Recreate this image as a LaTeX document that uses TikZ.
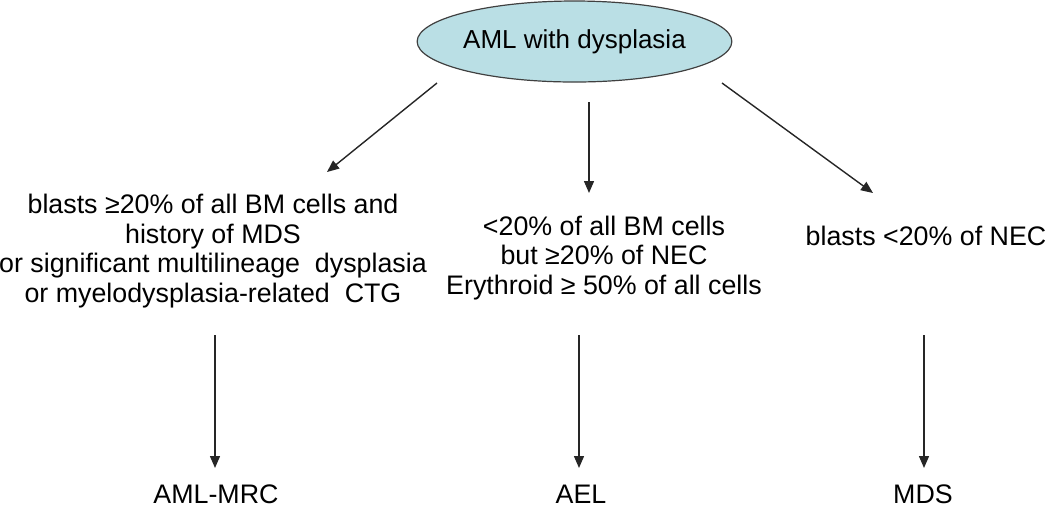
\documentclass[tikz,border=0pt]{standalone}
\usepackage{fontspec}
\setmainfont{Liberation Sans}
\usetikzlibrary{shapes.geometric,arrows.meta}
\definecolor{ovalfill}{RGB}{186,223,229}
\tikzset{
  arr/.style={draw=black!85, line width=0.7pt, -{Triangle[length=6pt,width=5pt]}},
  txt/.style={align=center, inner sep=0pt, anchor=base, font=\fontsize{13.4}{14.75}\selectfont}
}
\begin{document}
\begin{tikzpicture}[x=0.5pt,y=-0.5pt]
\useasboundingbox (0,0) rectangle (1050,511);

% Top oval
\node[ellipse, draw=black!75, line width=0.6pt, fill=ovalfill, minimum width=147.5pt, minimum height=40.5pt, inner sep=0pt, font=\fontsize{13}{15}\selectfont] (aml) at (574.5,41.5) {AML with dysplasia};

% Criteria (base = last line)
\node[txt] (mrc) at (213,302) {blasts ≥20\% of all BM cells and\\history of MDS\\or significant multilineage\ \ dysplasia\\or myelodysplasia-related\ \ CTG};
\node[txt] (ael) at (604,294) {<20\% of all BM cells\\but ≥20\% of NEC\\Erythroid ≥ 50\% of all cells};
\node[txt] (mds) at (926,245) {blasts <20\% of NEC};

% Diagnoses
\node[txt] (dmrc) at (216,503) {AML-MRC};
\node[txt] (dael) at (581,503) {AEL};
\node[txt] (dmds) at (923,503) {MDS};

% Coordinates
\coordinate (a1) at (437,83);
\coordinate (b1) at (327,172);
\coordinate (a2) at (589,102);
\coordinate (b2) at (589,193);
\coordinate (a3) at (722,83);
\coordinate (b3) at (873,193);
\coordinate (c1) at (215,335);
\coordinate (c2) at (579,335);
\coordinate (c3) at (924,335);

% Arrows
\draw[arr] (a1) -- (b1);
\draw[arr] (a2) -- (b2);
\draw[arr] (a3) -- (b3);
\draw[arr] (c1) -- (c1 |- 0,468);
\draw[arr] (c2) -- (c2 |- 0,468);
\draw[arr] (c3) -- (c3 |- 0,468);

\end{tikzpicture}
\end{document}
